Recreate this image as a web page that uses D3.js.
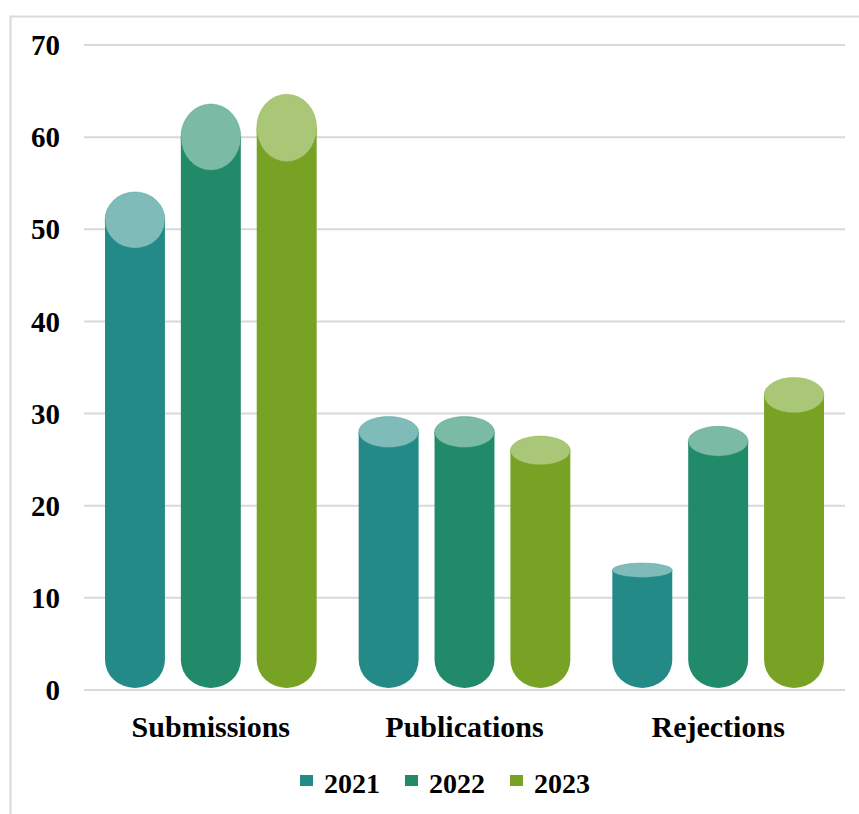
<!DOCTYPE html>
<html>
<head>
<meta charset="utf-8">
<script src="https://cdn.jsdelivr.net/npm/d3@7"></script>
<style>
  body { margin: 0; background: #fff; }
  text { font-family: "Liberation Serif", "Times New Roman", serif; font-weight: bold; fill: #000; }
</style>
</head>
<body>
<svg id="chart" width="859" height="814"></svg>
<script>
const categories = ['Submissions', 'Publications', 'Rejections'];
const years = ['2021', '2022', '2023'];
const values2021 = [51, 28, 13];
const values2022 = [60, 28, 27];
const values2023 = [61, 26, 32];
const yTicks = [0, 10, 20, 30, 40, 50, 60, 70];

const bodyColors = ['#238a87', '#218a69', '#77a224'];
const topColors = ['#7fbcb9', '#7bbaa5', '#aac778'];

const series = [values2021, values2022, values2023];

const svg = d3.select('#chart');

// frame
svg.append('rect')
    .attr('x', 10.5).attr('y', 16.5)
    .attr('width', 900).attr('height', 900)
    .attr('fill', 'none')
    .attr('stroke', '#d9d9d9')
    .attr('stroke-width', 2);

const x0 = d3.scaleBand()
    .domain(categories)
    .range([84, 845]);

const x1 = d3.scaleBand()
    .domain(years)
    .range([21, x0.bandwidth() - 21])
    .paddingInner(0.21);

const y = d3.scaleLinear()
    .domain([0, 70])
    .range([690, 45]);

// gridlines
svg.append('g')
    .selectAll('line')
    .data(yTicks)
    .join('line')
    .attr('x1', 84).attr('x2', 845)
    .attr('y1', d => y(d)).attr('y2', d => y(d))
    .attr('stroke', '#d9d9d9')
    .attr('stroke-width', 2);

// y tick labels
svg.append('g')
    .selectAll('text')
    .data(yTicks)
    .join('text')
    .attr('x', 60)
    .attr('y', d => y(d))
    .attr('dy', '0.35em')
    .attr('text-anchor', 'end')
    .style('font-size', '29px')
    .text(d => d);

// cylinders
const bars = [];
categories.forEach((c, ci) => {
    years.forEach((yr, si) => {
        bars.push({ cat: c, year: yr, si, value: series[si][ci] });
    });
});

const bw = x1.bandwidth();
const rx = bw / 2;
const bottomRy = 28;
const baseY = y(0) - 2;
// perspective: top face gets rounder the higher it sits
const topRy = v => 0.06 * (y(0) - y(v));

const g = svg.append('g');
bars.forEach(d => {
    const left = x0(d.cat) + x1(d.year);
    const cx = left + rx;
    const top = y(d.value);
    const bodyPath = `M${left},${top} L${left},${baseY - bottomRy} ` +
        `A${rx},${bottomRy} 0 0 0 ${left + bw},${baseY - bottomRy} ` +
        `L${left + bw},${top} Z`;
    g.append('path')
        .attr('d', bodyPath)
        .attr('fill', bodyColors[d.si]);
    g.append('ellipse')
        .attr('cx', cx).attr('cy', top)
        .attr('rx', rx).attr('ry', topRy(d.value))
        .attr('fill', topColors[d.si])
        .attr('stroke', bodyColors[d.si])
        .attr('stroke-opacity', 0.35)
        .attr('stroke-width', 1);
});

// category labels
svg.append('g')
    .selectAll('text')
    .data(categories)
    .join('text')
    .attr('x', d => x0(d) + x0.bandwidth() / 2)
    .attr('y', 737)
    .attr('text-anchor', 'middle')
    .style('font-size', '30px')
    .text(d => d);

// legend
const legendX = [300, 405, 510];
const legend = svg.append('g')
    .selectAll('g')
    .data(years)
    .join('g')
    .attr('transform', (d, i) => `translate(${legendX[i]},0)`);
legend.append('rect')
    .attr('x', 0).attr('y', 775)
    .attr('width', 13).attr('height', 11)
    .attr('fill', (d, i) => bodyColors[i]);
legend.append('text')
    .attr('x', 24).attr('y', 793)
    .style('font-size', '28px')
    .text(d => d);
</script>
</body>
</html>
